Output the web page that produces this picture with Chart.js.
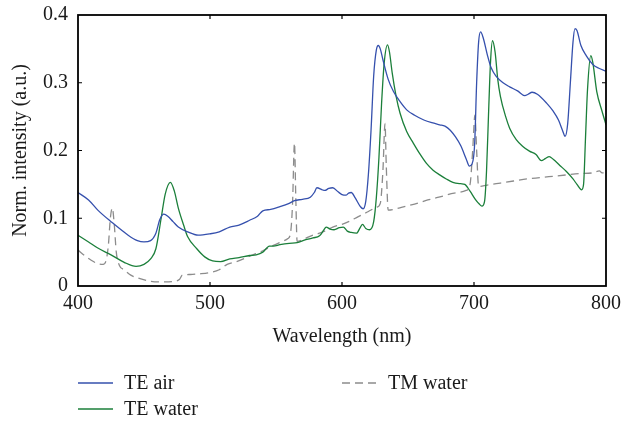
<!DOCTYPE html>
<html>
<head>
<meta charset="utf-8">
<script src="https://cdn.jsdelivr.net/npm/chart.js@4/dist/chart.umd.min.js"></script>
<style>
  html, body { margin: 0; padding: 0; background: #fff; }
  #wrap { width: 623px; height: 423px; }
</style>
</head>
<body>
<div id="wrap"><canvas id="chart" width="623" height="423"></canvas></div>
<script>
// TE air
const teAirNm = [400, 408, 415, 425, 438, 445, 450, 455, 459, 462, 465, 468, 472, 476, 483, 491, 500, 507, 515, 522, 530, 536, 540, 546, 553, 560, 564, 570, 576, 579, 581, 585, 587, 590, 593, 597, 600, 603, 605, 607, 610, 614, 616, 618, 620, 622, 624, 626, 627.5, 629, 631, 635, 639, 644, 649, 655, 662, 668, 674, 678, 682, 686, 690, 694, 696.5, 698.5, 700.5, 702, 703.5, 705, 707, 710, 713, 717, 722, 727, 733, 738.5, 741, 744, 748, 755, 760, 764, 767, 769, 771, 773, 775, 776.5, 778, 781, 785, 790, 795, 800];
const teAirVals = [0.138, 0.127, 0.112, 0.095, 0.075, 0.067, 0.065, 0.067, 0.078, 0.098, 0.106, 0.103, 0.095, 0.087, 0.080, 0.075, 0.077, 0.080, 0.087, 0.090, 0.097, 0.103, 0.111, 0.113, 0.117, 0.122, 0.126, 0.128, 0.131, 0.138, 0.145, 0.142, 0.141, 0.144, 0.145, 0.139, 0.135, 0.134, 0.137, 0.138, 0.130, 0.117, 0.114, 0.125, 0.165, 0.230, 0.310, 0.348, 0.355, 0.350, 0.334, 0.305, 0.287, 0.272, 0.260, 0.252, 0.245, 0.241, 0.238, 0.236, 0.230, 0.220, 0.207, 0.188, 0.177, 0.180, 0.210, 0.300, 0.360, 0.375, 0.366, 0.342, 0.322, 0.309, 0.300, 0.294, 0.288, 0.281, 0.283, 0.286, 0.283, 0.270, 0.258, 0.245, 0.230, 0.221, 0.240, 0.300, 0.360, 0.380, 0.377, 0.355, 0.340, 0.327, 0.321, 0.317];

// TE water
const teWaterNm = [400, 408, 415, 425, 435, 444, 450, 455, 459, 463, 466, 470, 473, 476, 480, 483, 490, 496, 502, 508, 515, 522, 530, 535, 540, 545, 548, 553, 560, 566, 572, 578, 583, 586, 588, 591, 594, 598, 601, 604, 607, 611, 614, 615.5, 618, 621, 624, 626, 628, 630, 632, 634.5, 636, 638, 641, 644, 649, 654, 659, 664, 669, 674, 679, 684, 690, 693, 697, 701, 704, 706, 708, 709.5, 711, 712.5, 714, 716, 718, 720, 724, 727, 732, 737, 742, 747, 751, 754, 757, 760, 765, 770, 775, 778, 781.5, 783, 784.5, 786, 788.5, 790, 793, 797, 800];
const teWaterVals = [0.075, 0.065, 0.056, 0.046, 0.035, 0.029, 0.032, 0.040, 0.055, 0.100, 0.135, 0.153, 0.140, 0.115, 0.090, 0.073, 0.055, 0.043, 0.037, 0.036, 0.040, 0.042, 0.045, 0.046, 0.050, 0.059, 0.059, 0.061, 0.063, 0.064, 0.068, 0.071, 0.074, 0.082, 0.087, 0.084, 0.083, 0.086, 0.087, 0.081, 0.079, 0.078, 0.087, 0.091, 0.085, 0.083, 0.095, 0.130, 0.190, 0.270, 0.330, 0.356, 0.345, 0.315, 0.280, 0.255, 0.228, 0.211, 0.195, 0.181, 0.171, 0.164, 0.158, 0.153, 0.151, 0.150, 0.140, 0.128, 0.121, 0.118, 0.125, 0.170, 0.253, 0.330, 0.362, 0.345, 0.305, 0.280, 0.250, 0.233, 0.216, 0.206, 0.199, 0.194, 0.185, 0.188, 0.191, 0.187, 0.178, 0.169, 0.158, 0.150, 0.142, 0.150, 0.220, 0.290, 0.340, 0.330, 0.287, 0.258, 0.238];

// TM water
const tmWaterNm = [400, 405, 410, 415, 419, 421, 423, 424.5, 426, 427.5, 429, 431.5, 435, 440, 447, 455, 465, 473, 477, 479, 485, 492, 500, 507, 513, 520, 530, 540, 548, 555, 559, 561, 562.5, 564, 565, 566, 572, 578, 583, 588, 593, 600, 605, 612, 620, 626, 629, 631, 632.6, 633.5, 635, 645, 655, 665, 675, 685, 694, 697, 699, 700.7, 702, 703.5, 710, 720, 730, 740, 750, 760, 770, 780, 790, 795, 797, 800];
const tmWaterVals = [0.053, 0.045, 0.038, 0.033, 0.032, 0.036, 0.060, 0.100, 0.115, 0.090, 0.050, 0.030, 0.024, 0.016, 0.011, 0.007, 0.006, 0.007, 0.010, 0.016, 0.017, 0.018, 0.020, 0.024, 0.032, 0.036, 0.044, 0.052, 0.060, 0.066, 0.070, 0.078, 0.120, 0.211, 0.130, 0.066, 0.070, 0.075, 0.078, 0.082, 0.087, 0.091, 0.095, 0.102, 0.110, 0.116, 0.122, 0.170, 0.240, 0.180, 0.112, 0.116, 0.121, 0.127, 0.132, 0.137, 0.141, 0.150, 0.200, 0.252, 0.200, 0.147, 0.149, 0.152, 0.155, 0.158, 0.160, 0.162, 0.164, 0.166, 0.167, 0.170, 0.167, 0.167];

const xTicks = [400, 500, 600, 700, 800];
const yTicks = [0, 0.1, 0.2, 0.3, 0.4];

const serif = "'Liberation Serif', 'DejaVu Serif', serif";

function makeSeries(label, xs, ys, color, dash) {
    const ds = {
        label: label,
        borderColor: color,
        borderWidth: 1.3,
        borderDash: dash,
        pointRadius: 0,
        cubicInterpolationMode: 'monotone'
    };
    ds['data'] = xs.map((x, i) => ({ x: x, y: ys[i] }));
    return ds;
}

// box frame with inward ticks on all four sides
const framePlugin = {
    id: 'frame',
    afterDraw(chart) {
        const ctx = chart.ctx;
        const a = chart.chartArea;
        const xs = chart.scales.x, ys = chart.scales.y;
        ctx.save();
        ctx.strokeStyle = '#000';
        ctx.lineWidth = 1.8;
        ctx.strokeRect(a.left, a.top, a.right - a.left, a.bottom - a.top);
        ctx.lineWidth = 1.2;
        ctx.beginPath();
        xTicks.slice(1, -1).forEach(v => {
            const px = xs.getPixelForValue(v);
            ctx.moveTo(px, a.bottom); ctx.lineTo(px, a.bottom - 4);
            ctx.moveTo(px, a.top); ctx.lineTo(px, a.top + 4);
        });
        yTicks.slice(1, -1).forEach(v => {
            const py = ys.getPixelForValue(v);
            ctx.moveTo(a.left, py); ctx.lineTo(a.left + 4, py);
            ctx.moveTo(a.right, py); ctx.lineTo(a.right - 4, py);
        });
        ctx.stroke();
        ctx.restore();
    }
};

// legend laid out in two columns under the axis title
const legendPlugin = {
    id: 'legend2col',
    afterDraw(chart) {
        const ctx = chart.ctx;
        const spots = [
            { x: 78, y: 383 },
            { x: 78, y: 409 },
            { x: 342, y: 383 }
        ];
        ctx.save();
        chart.data.datasets.forEach((ds, i) => {
            const s = spots[i];
            ctx.strokeStyle = ds.borderColor;
            ctx.lineWidth = 1.4;
            ctx.setLineDash(ds.borderDash || []);
            ctx.beginPath();
            ctx.moveTo(s.x, s.y);
            ctx.lineTo(s.x + 35, s.y);
            ctx.stroke();
            ctx.setLineDash([]);
            ctx.fillStyle = '#1a1a1a';
            ctx.font = '20px ' + serif;
            ctx.textBaseline = 'alphabetic';
            ctx.fillText(ds.label, s.x + 46, s.y + 5.5);
        });
        ctx.restore();
    }
};

const datasets = [
    makeSeries('TE air', teAirNm, teAirVals, '#3550ad', []),
    makeSeries('TE water', teWaterNm, teWaterVals, '#1b7f3a', []),
    makeSeries('TM water', tmWaterNm, tmWaterVals, '#8c8c8c', [8, 5])
];
const data = { datasets };

const options = {
    responsive: false,
    animation: false,
    layout: { padding: { top: 15, right: 17, bottom: 74, left: 0 } },
    plugins: {
        legend: { display: false },
        tooltip: { enabled: false }
    },
    scales: {
        x: {
            type: 'linear',
            min: 400,
            max: 800,
            grid: { display: false, drawTicks: false },
            border: { display: false },
            afterFit: s => { s.height = 63; s.paddingLeft = 0; s.paddingRight = 0; },
            afterBuildTicks: s => { s.ticks = xTicks.map(v => ({ value: v })); },
            ticks: {
                color: '#1a1a1a',
                padding: 6,
                font: { family: serif, size: 20 }
            },
            title: {
                display: true,
                text: 'Wavelength (nm)',
                color: '#1a1a1a',
                padding: { top: 0, bottom: 0 },
                font: { family: serif, size: 20 }
            }
        },
        y: {
            min: 0,
            max: 0.4,
            grid: { display: false, drawTicks: false },
            border: { display: false },
            afterFit: s => { s.width = 78; s.paddingTop = 0; s.paddingBottom = 0; },
            afterBuildTicks: s => { s.ticks = yTicks.map(v => ({ value: v })); },
            ticks: {
                color: '#1a1a1a',
                padding: 10,
                font: { family: serif, size: 20 }
            },
            title: {
                display: true,
                text: 'Norm. intensity (a.u.)',
                color: '#1a1a1a',
                padding: { top: 9, bottom: 0 },
                font: { family: serif, size: 20 }
            }
        }
    }
};

const ctx = document.getElementById('chart').getContext('2d');
new Chart(ctx, {
    type: 'line',
    data,
    options,
    plugins: [framePlugin, legendPlugin]
});
</script>
</body>
</html>
